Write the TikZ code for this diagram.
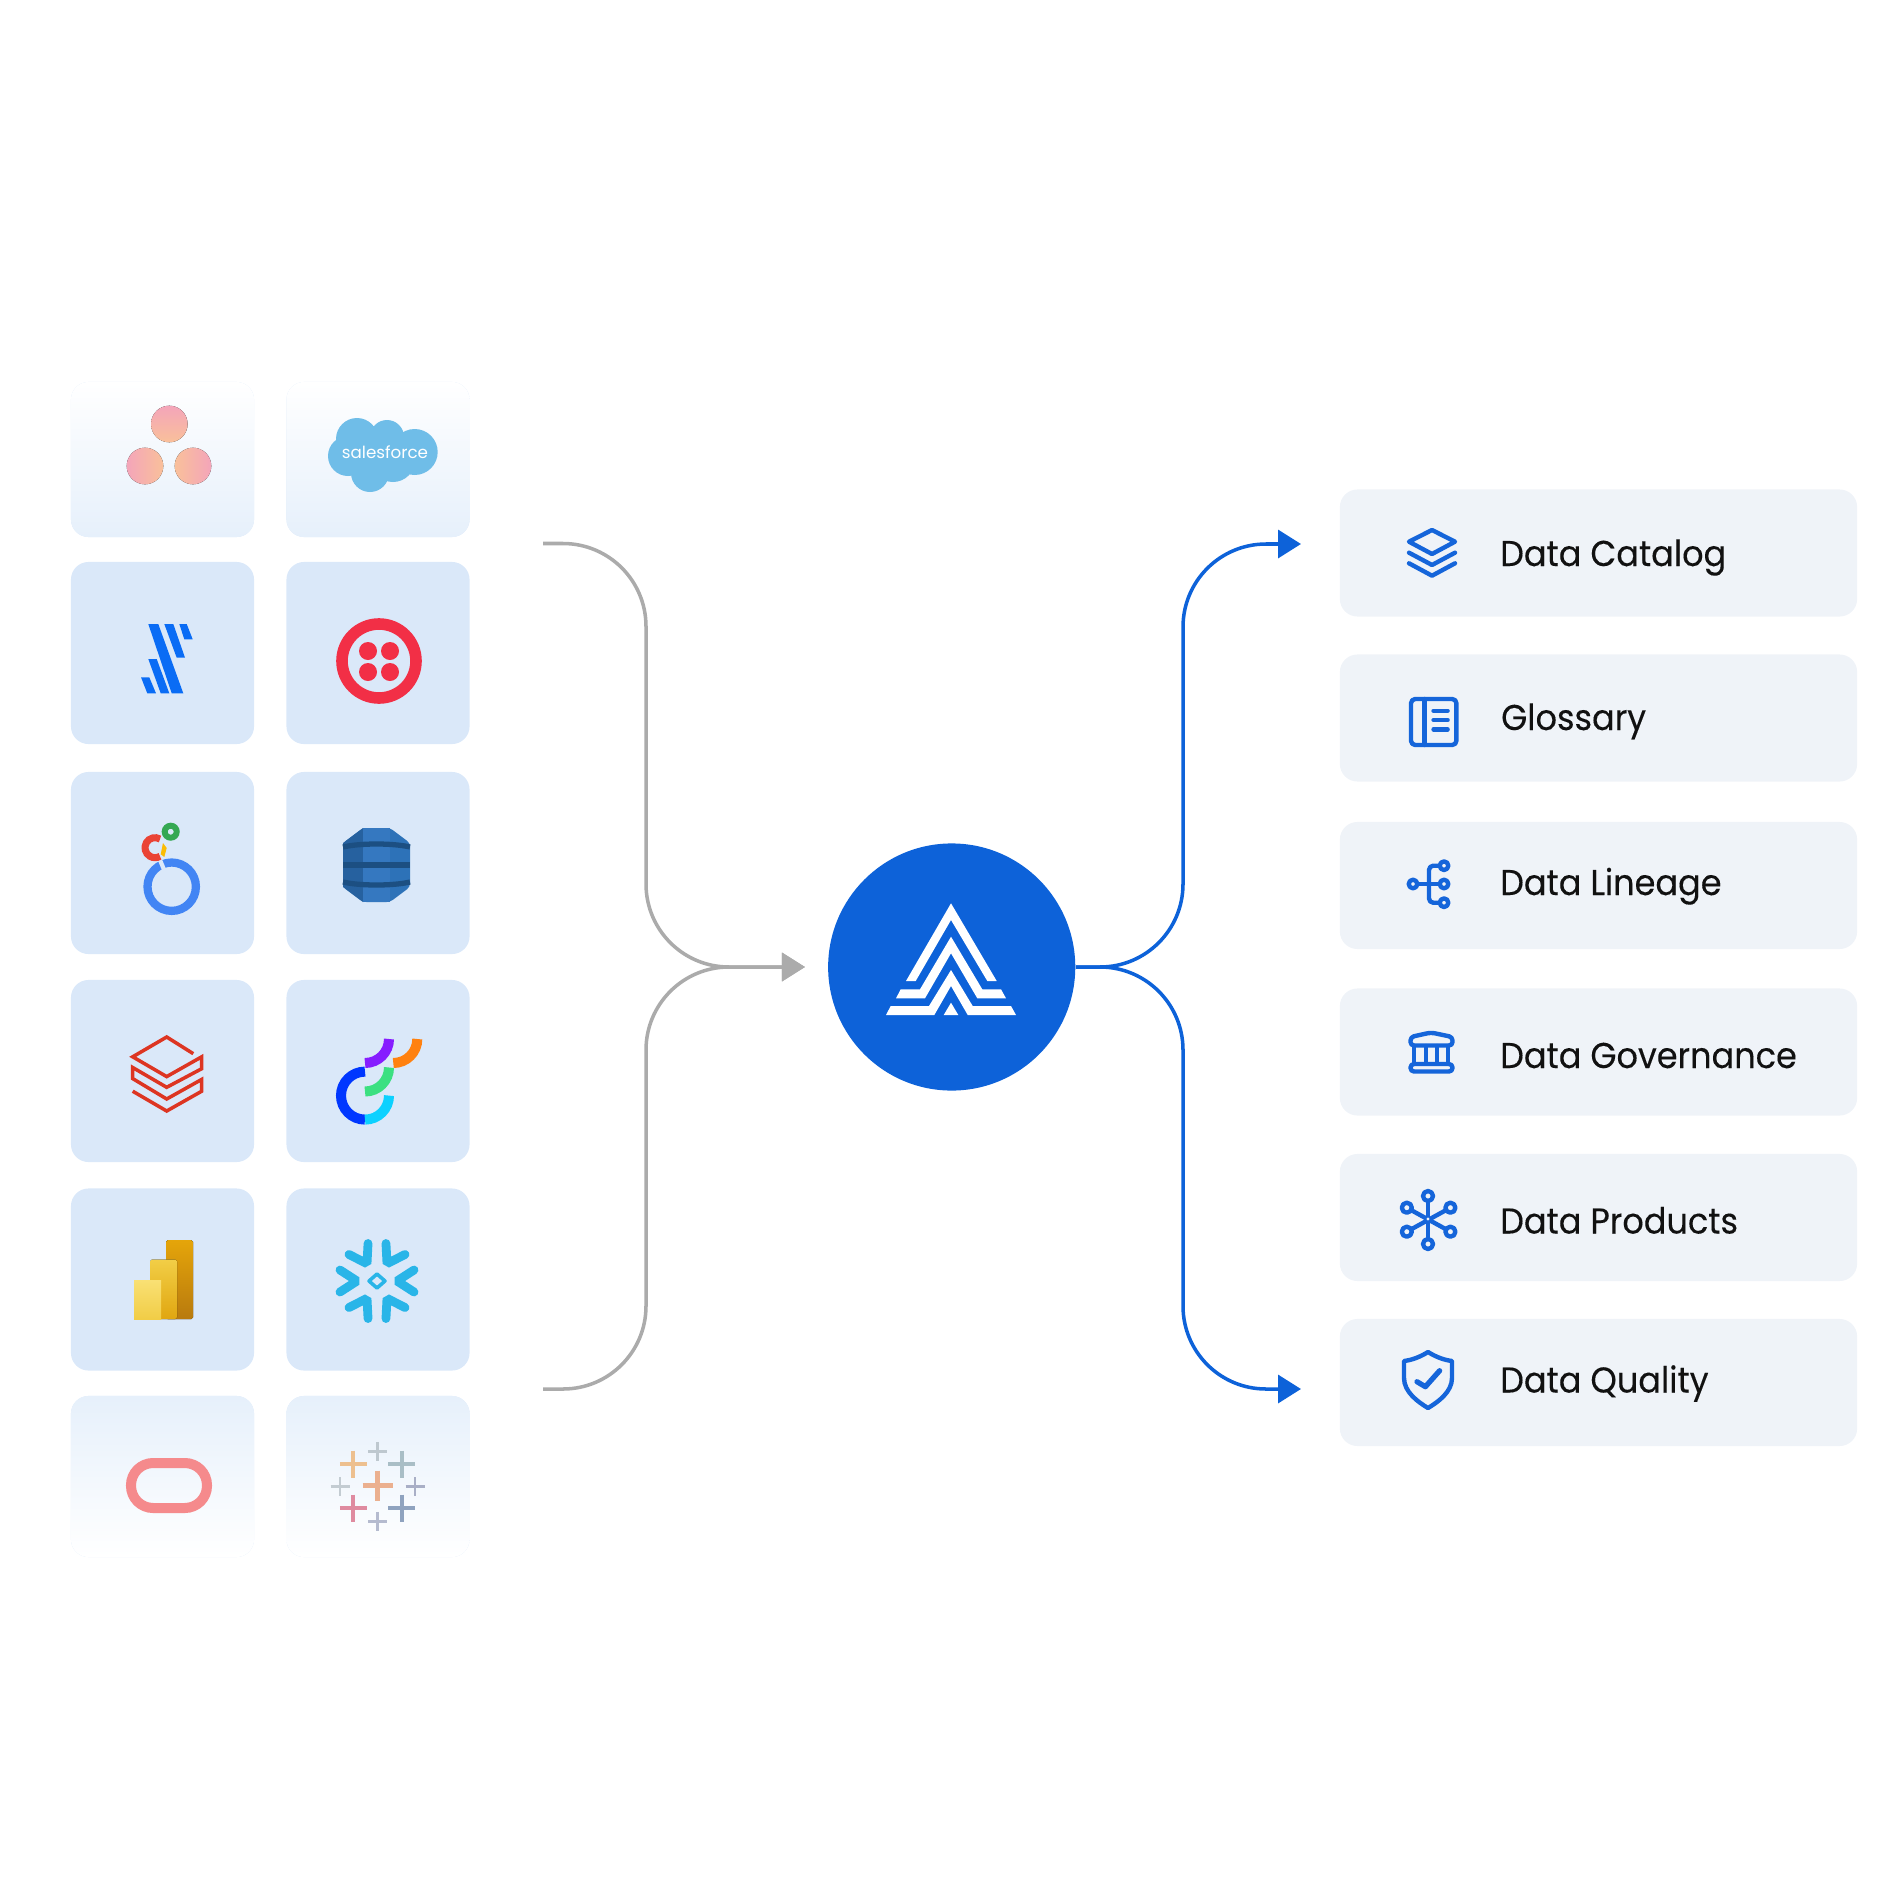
\documentclass[tikz,border=0pt]{standalone}
\usepackage{fontspec}
\usepackage{xcolor}
\usepackage{tikz}
\usetikzlibrary{arrows.meta,calc}
\setmainfont{Poppins}
\newfontfamily\labfont{Poppins}[FakeStretch=0.935,FakeBold=0.2]
\definecolor{tilebg}{HTML}{DAE8F9}
\definecolor{tilefade}{HTML}{E6F0FB}
\definecolor{boxbg}{HTML}{EFF3F8}
\definecolor{hubblue}{HTML}{0D62D9}
\definecolor{iconblue}{HTML}{1565DA}
\definecolor{wire}{HTML}{ABABAB}
\definecolor{ink}{HTML}{111111}
\definecolor{flakeblue}{HTML}{29B5E8}
\definecolor{asapink}{HTML}{F4A5BA}
\definecolor{asapeach}{HTML}{F9C09A}
\definecolor{forceblue}{HTML}{6FBDE8}
\definecolor{slashblue}{HTML}{0A6CF5}
\definecolor{twired}{HTML}{F22F46}
\definecolor{dynmid}{HTML}{2D72B8}
\definecolor{dynleft}{HTML}{26619F}
\definecolor{dynlite}{HTML}{3578C0}
\definecolor{dynband}{HTML}{1C4F82}
\definecolor{brickred}{HTML}{DD3522}
\definecolor{orapink}{HTML}{F58A8C}
\tikzset{
  tile/.style={rectangle, rounded corners=5pt, minimum width=1.83cm, minimum height=1.82cm, inner sep=0pt, fill=tilebg},
  tiletop/.style={tile, top color=white, bottom color=tilefade, minimum height=1.55cm},
  tilebot/.style={tile, top color=tilefade, bottom color=white, minimum height=1.61cm},
  featbox/.style={rectangle, rounded corners=5pt, minimum width=5.17cm, minimum height=1.27cm, inner sep=0pt, fill=boxbg},
  hubnode/.style={circle, fill=hubblue, minimum size=2.47cm, inner sep=0pt},
  lab/.style={text=ink, anchor=base west, inner sep=0pt, font=\labfont\fontsize{10.2}{12}\selectfont},
  lineG/.style={line width=1pt, draw=wire, rounded corners=23.6pt, -{Triangle[length=0.23cm,width=0.28cm]}},
  lineB/.style={line width=1pt, draw=hubblue, rounded corners=23.6pt, -{Triangle[length=0.23cm,width=0.28cm]}},
  icon/.style={draw=iconblue, line width=1.25pt, line join=round, line cap=round},
  dbline/.style={draw=brickred, line width=1pt, line join=miter},
  optarc/.style={line width=2.85pt},
  flake/.style={draw=flakeblue, line width=2.5pt, line cap=round, line join=bevel, shift={(377,1281)}},
}
\newcommand{\tabcross}[4]{\draw[draw=#4, line width=#3*0.085pt] (#1-#3,#2) -- (#1+#3,#2) (#1,#2-#3) -- (#1,#2+#3);}
\begin{document}
\begin{tikzpicture}[x=0.01cm,y=-0.01cm]
  \useasboundingbox (0,0) rectangle (1900,1900);

  % source tiles
  \node[tiletop] (tileAsana) at (162.5,459.5) {};
  \node[tiletop] (tileForce) at (378,459.5) {};
  \node[tile] (tileSlash) at (162.5,653) {};
  \node[tile] (tileTwilio) at (378,653) {};
  \node[tile] (tileLooker) at (162.5,863) {};
  \node[tile] (tileDynamo) at (378,863) {};
  \node[tile] (tileBricks) at (162.5,1071) {};
  \node[tile] (tileOpti) at (378,1071) {};
  \node[tile] (tilePower) at (162.5,1279.5) {};
  \node[tile] (tileSnow) at (378,1279.5) {};
  \node[tilebot] (tileOracle) at (162.5,1476.5) {};
  \node[tilebot] (tileTableau) at (378,1476.5) {};

  % asana
  \fill[top color=asapink, bottom color=asapeach] (169.3,424) circle[radius=18.3];
  \fill[left color=asapink, right color=asapeach] (145,466) circle[radius=18.3];
  \fill[left color=asapeach, right color=asapink] (193,466) circle[radius=18.3];

  % salesforce
  \fill[forceblue] (357,439) circle[radius=21] (387,437) circle[radius=17] (414.7,452) circle[radius=23] (370,473) circle[radius=19] (393,460) circle[radius=22] (348,456) circle[radius=20] (375,455) circle[radius=20];
  \node[text=white, font=\fontsize{4.75}{6}\selectfont, inner sep=0pt] (labForce) at (385,452) {salesforce};

  % slash logo
  \fill[slashblue] (148.3,624) -- (158.3,624) -- (183.3,693.3) -- (171.7,693.3) -- cycle;
  \fill[slashblue] (164.3,624) -- (173.3,624) -- (185,657.7) -- (176.7,657.7) -- cycle;
  \fill[slashblue] (179.3,624) -- (186.7,624) -- (192.7,639.3) -- (184.3,639.3) -- cycle;
  \fill[slashblue] (148.3,659) -- (156.7,659) -- (169.3,693.3) -- (160.7,693.3) -- cycle;
  \fill[slashblue] (141,677.3) -- (149.3,677.3) -- (156,693.3) -- (147.3,693.3) -- cycle;

  % twilio
  \draw[draw=twired, line width=3.3pt] (379,661) circle[radius=37];
  \fill[twired] (368,651) circle[radius=9] (390,651) circle[radius=9] (368,672) circle[radius=9] (390,672) circle[radius=9];

  % looker
  \draw[draw={rgb,255:red,66;green,133;blue,244}, line width=2.35pt] (171.7,886.7) circle[radius=24.2];
  \draw[draw=tilebg, line width=1.2pt] (160,860) -- (165,872);
  \draw[draw={rgb,255:red,234;green,67;blue,53}, line width=2pt] (160,839) arc[start angle=300,end angle=60,radius=10];
  \draw[draw={rgb,255:red,52;green,168;blue,83}, line width=1.7pt] (170.7,831.7) circle[radius=6];
  \fill[color={rgb,255:red,251;green,188;blue,4}] (163,843) -- (166.7,848) -- (164.3,857) -- (160.7,854.3) -- cycle;

  % dynamodb
  \fill[dynmid, rounded corners=1pt] (363,828) -- (390,828) -- (410,843) -- (410,887) -- (390,902) -- (363,902) -- (343,887) -- (343,843) -- cycle;
  \fill[dynleft] (363,828) -- (343,843) -- (343,887) -- (363,902) -- cycle;
  \fill[dynlite] (363,828) -- (390,828) -- (390,902) -- (363,902) -- cycle;
  \draw[draw=dynband, line width=1.5pt] (343,847) .. controls (360,843) and (393,843) .. (410,847);
  \draw[draw=dynband, line width=1.5pt] (343,865) -- (410,865);
  \draw[draw=dynband, line width=1.5pt] (343,882) .. controls (360,886) and (393,886) .. (410,882);

  % databricks
  \draw[dbline] (193.3,1053.7) -- (166.7,1037) -- (132.7,1056.8) -- (166.7,1076.6) -- (201.7,1056.8) -- (201.7,1068.7) -- (166.7,1087.3) -- (132.7,1067.5) -- (132.7,1078.6) -- (166.7,1099) -- (201.7,1079.4) -- (201.7,1091.2) -- (166.7,1111) -- (132.7,1091.2);

  % optimizely
  \draw[optarc, draw={rgb,255:red,0;green,55;blue,255}] (365,1071.6) arc[start angle=270,end angle=90,radius=24];
  \draw[optarc, draw={rgb,255:red,12;green,209;blue,255}] (365,1119.6) arc[start angle=90,end angle=0,radius=24];
  \draw[optarc, draw={rgb,255:red,59;green,224;blue,129}] (365,1091.5) arc[start angle=90,end angle=0,radius=24];
  \draw[optarc, draw={rgb,255:red,134;green,29;blue,255}] (365,1063) arc[start angle=90,end angle=0,radius=24];
  \draw[optarc, draw={rgb,255:red,255;green,129;blue,16}] (393.3,1063) arc[start angle=90,end angle=0,radius=24];

  % power bi
  \fill[rounded corners=0.5pt, top color={rgb,255:red,229;green,165;blue,10}, bottom color={rgb,255:red,184;green,122;blue,14}] (166,1240) rectangle (193,1319);
  \fill[rounded corners=0.5pt, top color={rgb,255:red,242;green,206;blue,70}, bottom color={rgb,255:red,224;green,166;blue,16}] (150,1259.6) rectangle (177,1319);
  \fill[top color={rgb,255:red,249;green,224;blue,116}, bottom color={rgb,255:red,241;green,205;blue,70}] (134,1280) rectangle (161,1319);

  % snowflake
  \draw[flake] (37,-11) -- (20,0) -- (37,11);
  \draw[flake,rotate=60] (37,-11) -- (20,0) -- (37,11);
  \draw[flake,rotate=120] (37,-11) -- (20,0) -- (37,11);
  \draw[flake,rotate=180] (37,-11) -- (20,0) -- (37,11);
  \draw[flake,rotate=240] (37,-11) -- (20,0) -- (37,11);
  \draw[flake,rotate=300] (37,-11) -- (20,0) -- (37,11);
  \draw[draw=flakeblue, line width=1pt, line join=round] (369,1281) -- (377,1274) -- (385,1281) -- (377,1288) -- cycle;

  % oracle
  \draw[draw=orapink, line width=2.85pt, rounded corners=6.3pt] (131,1463) rectangle (207,1508);

  % tableau
  \tabcross{377.7}{1485.7}{15}{{rgb,255:red,235;green,176;blue,143}}
  \tabcross{353.3}{1464}{13.5}{{rgb,255:red,237;green,192;blue,143}}
  \tabcross{401.7}{1464}{13.5}{{rgb,255:red,169;green,190;blue,198}}
  \tabcross{377.7}{1451.3}{9.5}{{rgb,255:red,190;green,200;blue,207}}
  \tabcross{340}{1486.5}{9.5}{{rgb,255:red,195;green,204;blue,210}}
  \tabcross{415}{1486.5}{9.5}{{rgb,255:red,169;green,175;blue,198}}
  \tabcross{353.3}{1508.2}{13.5}{{rgb,255:red,223;green,139;blue,160}}
  \tabcross{401.7}{1508.2}{13.5}{{rgb,255:red,143;green,163;blue,191}}
  \tabcross{377.7}{1521.3}{9.5}{{rgb,255:red,181;green,187;blue,207}}

  % hub
  \node[hubnode] (hub) at (951.7,967) {};
  \fill[white] (951,903.3) -- (906,981) -- (915.7,981) -- (951,920) -- (987.3,981) -- (996.7,981) -- cycle;
  \fill[white] (951,936.7) -- (920,989.3) -- (900.7,989.3) -- (896,998.3) -- (925,998.3) -- (951,953.3) -- (977.3,998.3) -- (1006,998.3) -- (1001,989.3) -- (982.3,989.3) -- cycle;
  \fill[white] (951,970) -- (929,1006) -- (890.7,1006) -- (886,1015) -- (934.3,1015) -- (951,986) -- (967.7,1015) -- (1016,1015) -- (1011,1006) -- (972.7,1006) -- cycle;
  \fill[white] (951,1002.7) -- (943.7,1015) -- (958.3,1015) -- cycle;

  % connectors
  \coordinate (srcTop) at (543,543.5);
  \coordinate (srcBot) at (543,1389);
  \coordinate (hubIn) at (805,967);
  \coordinate (catalogIn) at (1301,544);
  \coordinate (qualityIn) at (1301,1389);
  \draw[lineG] (srcTop) -- (646,543.5) -- (646,967) -- (hubIn);
  \draw[lineG] (srcBot) -- (646,1389) -- (646,967) -- (hubIn);
  \draw[lineB] (hub.east) -- (1183,967) -- (1183,544) -- (catalogIn);
  \draw[lineB] (hub.east) -- (1183,967) -- (1183,1389) -- (qualityIn);

  % feature boxes
  \node[featbox] (boxCatalog) at (1598.5,553) {};
  \node[featbox] (boxGlossary) at (1598.5,718) {};
  \node[featbox] (boxLineage) at (1598.5,885.5) {};
  \node[featbox] (boxGovern) at (1598.5,1052) {};
  \node[featbox] (boxProducts) at (1598.5,1217.5) {};
  \node[featbox] (boxQuality) at (1598.5,1382.5) {};

  \node[lab] (labCatalog) at (1499.5,566) {Data Catalog};
  \node[lab] (labGlossary) at (1500.5,730) {Glossary};
  \node[lab] (labLineage) at (1499.5,895) {Data Lineage};
  \node[lab] (labGovern) at (1499.5,1068) {Data Governance};
  \node[lab] (labProducts) at (1499.5,1233.5) {Data Products};
  \node[lab] (labQuality) at (1499.5,1392.5) {Data Quality};

  % catalog icon
  \draw[icon] (1432,530) -- (1455,541.7) -- (1432,554) -- (1409,541.7) -- cycle;
  \draw[icon] (1409,552.7) -- (1432,565) -- (1455,552.7);
  \draw[icon] (1409,563.3) -- (1432,575.7) -- (1455,563.3);

  % glossary icon
  \draw[icon, rounded corners=1.2pt] (1411,699) rectangle (1456.4,745);
  \draw[icon] (1424.6,699) -- (1424.6,745);
  \draw[icon] (1433.5,710.7) -- (1447.6,710.7);
  \draw[icon] (1433.5,720) -- (1447.6,720);
  \draw[icon] (1433.5,729.3) -- (1447.6,729.3);

  % lineage icon
  \draw[icon] (1413,884) -- (1444,884);
  \draw[icon, rounded corners=1.2pt] (1444,865.7) -- (1429,865.7) -- (1429,902.7) -- (1444,902.7);
  \draw[icon, fill=boxbg] (1413,884) circle[radius=4.3];
  \draw[icon, fill=boxbg] (1444,865.7) circle[radius=4.3];
  \draw[icon, fill=boxbg] (1444,884) circle[radius=4.3];
  \draw[icon, fill=boxbg] (1444,902.7) circle[radius=4.3];

  % governance icon
  \draw[icon, rounded corners=1pt] (1410.5,1045.5) -- (1410.5,1037) -- (1431,1032.5) -- (1452.5,1037) -- (1452.5,1045.5) -- cycle;
  \draw[icon] (1414,1046) -- (1414,1063);
  \draw[icon] (1426,1046) -- (1426,1063);
  \draw[icon] (1437,1046) -- (1437,1063);
  \draw[icon] (1448,1046) -- (1448,1063);
  \draw[icon, rounded corners=1pt] (1410.5,1064) rectangle (1452.5,1071.5);

  % products icon
  \draw[icon] (1428,1196) -- (1428,1244);
  \draw[icon] (1406.8,1207.7) -- (1450.4,1231.7);
  \draw[icon] (1450.4,1207.7) -- (1406.8,1231.7);
  \draw[icon, fill=boxbg] (1428,1196) circle[radius=5];
  \draw[icon, fill=boxbg] (1428,1244) circle[radius=5];
  \draw[icon, fill=boxbg] (1406.8,1207.7) circle[radius=5];
  \draw[icon, fill=boxbg] (1450.4,1207.7) circle[radius=5];
  \draw[icon, fill=boxbg] (1406.8,1231.7) circle[radius=5];
  \draw[icon, fill=boxbg] (1450.4,1231.7) circle[radius=5];
  \fill[boxbg] (1428,1219) circle[radius=1.6];

  % quality icon
  \draw[icon] (1428,1352) .. controls (1436,1357) and (1444,1360) .. (1452,1361) -- (1452,1378) .. controls (1452,1392) and (1438,1402) .. (1428,1408) .. controls (1418,1402) and (1404,1392) .. (1404,1378) -- (1404,1361) .. controls (1412,1360) and (1420,1357) .. (1428,1352) -- cycle;
  \draw[icon, line width=1.5pt] (1417,1381.7) -- (1425.4,1386.7) -- (1439.6,1370.7);
\end{tikzpicture}
\end{document}
